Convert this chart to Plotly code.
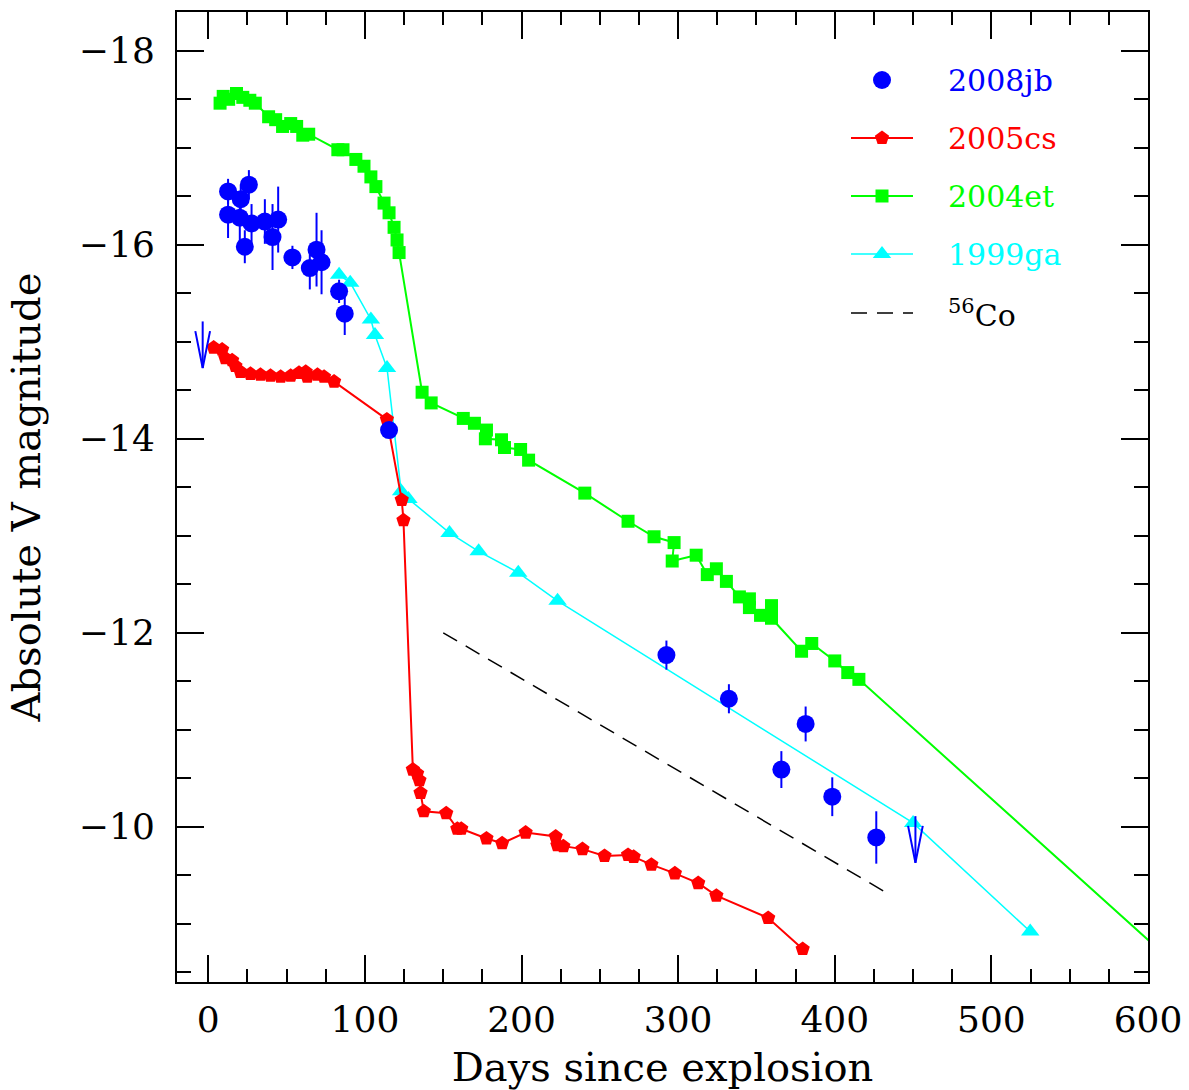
import plotly.graph_objects as go

# ---------------- data ----------------
# SN 2008jb (absolute V, with errors)
jb_x = [12.6, 25.9, 20.7, 12.6, 20.1, 27.6, 36.1, 41.0, 44.6, 23.3, 53.7, 64.8, 69.1, 72.3,
        83.5, 87.1, 115.4, 292.5, 332.4, 365.9, 381.4, 398.4, 426.5]
jb_y = [-16.55, -16.62, -16.47, -16.31, -16.28, -16.22, -16.24, -16.08, -16.26, -15.98, -15.87,
        -15.76, -15.95, -15.82, -15.52, -15.29, -14.09, -11.77, -11.32, -10.59, -11.06, -10.31, -9.89]
jb_err = [0.13, 0.15, 0.15, 0.24, 0.24, 0.20, 0.23, 0.34, 0.34, 0.17, 0.12, 0.22, 0.38, 0.33,
          0.12, 0.22, 0.05, 0.15, 0.15, 0.19, 0.18, 0.20, 0.27]
# 2008jb upper limits
ul_x = [-3.6, 451.5]
ul_y = [-14.97, -9.87]

# SN 2005cs
cs_x = [3.4, 8.8, 10.9, 15.2, 17.3, 20.5, 26.9, 33.3, 39.7, 46.2, 52.6, 57.9, 62.2, 63.2, 69.7,
        73.9, 80.3, 114.0, 123.5, 124.6, 130.6, 133.3, 134.8, 135.5, 137.6, 151.9, 159.0, 161.5,
        177.6, 187.6, 202.6, 221.8, 222.9, 226.7, 238.9, 253.0, 268.0, 271.6, 282.9, 297.9,
        312.8, 324.4, 357.5, 379.5]
cs_y = [-14.94, -14.92, -14.83, -14.81, -14.75, -14.69, -14.67, -14.66, -14.65, -14.64, -14.65,
        -14.68, -14.69, -14.64, -14.66, -14.64, -14.59, -14.20, -13.37, -13.16, -10.59, -10.55,
        -10.48, -10.35, -10.16, -10.14, -9.98, -9.98, -9.88, -9.83, -9.94, -9.90, -9.81, -9.80,
        -9.77, -9.70, -9.71, -9.69, -9.61, -9.52, -9.42, -9.29, -9.06, -8.74]

# SN 2004et
et_x = [7.5, 9.5, 13.0, 18.0, 22.0, 26.5, 30.0, 38.5, 43.0, 47.4, 52.6, 56.4, 60.3, 64.1,
        82.7, 86.0, 94.2, 99.4, 103.8, 107.0, 112.2, 115.4, 118.6, 120.5, 121.8, 136.5, 142.3,
        162.8, 169.9, 177.6, 176.9, 187.2, 189.1, 199.4, 204.5, 240.4, 268.0, 284.6, 297.4,
        296.2, 311.5, 318.6, 324.4, 330.8, 339.1, 345.5, 345.5, 352.6, 359.6, 359.6, 378.8,
        385.3, 400.0, 408.3, 415.4, 612.0]
et_y = [-17.46, -17.53, -17.50, -17.56, -17.52, -17.49, -17.46, -17.32, -17.29, -17.22, -17.25,
        -17.22, -17.13, -17.14, -16.98, -16.98, -16.88, -16.81, -16.70, -16.60, -16.43, -16.33,
        -16.18, -16.05, -15.92, -14.48, -14.37, -14.21, -14.16, -14.09, -14.00, -13.99, -13.91,
        -13.89, -13.78, -13.44, -13.15, -12.99, -12.93, -12.74, -12.80, -12.60, -12.66, -12.53,
        -12.37, -12.35, -12.26, -12.18, -12.28, -12.15, -11.81, -11.89, -11.71, -11.59, -11.52,
        -8.66]

# SN 1999ga
ga_x = [83.5, 90.6, 103.8, 106.4, 114.1, 123.1, 127.8, 154.0, 172.6, 197.9, 223.0, 450.0, 524.8]
ga_y = [-15.69, -15.61, -15.23, -15.07, -14.73, -13.46, -13.38, -13.03, -12.84, -12.62, -12.33,
        -10.04, -8.92]

# 56Co decay slope
co_x = [150.0, 433.0]
co_y = [-12.00, -9.32]

legend_names = ["2008jb", "2005cs", "2004et", "1999ga", "<sup>56</sup>Co"]

# ---------------- styles ----------------
BLUE, RED, GREEN, CYAN = "#0000ff", "#ff0000", "#00ff00", "#00ffff"
FONT = "DejaVu Serif"

fig = go.Figure()

fig.add_trace(go.Scatter(x=co_x, y=co_y, mode="lines",
                         line=dict(color="black", width=1.5, dash="16px,10px"),
                         showlegend=False))
fig.add_trace(go.Scatter(x=ga_x, y=ga_y, mode="lines+markers",
                         line=dict(color=CYAN, width=1.5),
                         marker=dict(symbol="triangle-up", size=16, color=CYAN),
                         showlegend=False))
fig.add_trace(go.Scatter(x=et_x, y=et_y, mode="lines+markers",
                         line=dict(color=GREEN, width=2),
                         marker=dict(symbol="square", size=13, color=GREEN),
                         showlegend=False))
fig.add_trace(go.Scatter(x=cs_x, y=cs_y, mode="lines+markers",
                         line=dict(color=RED, width=2),
                         marker=dict(symbol="pentagon", size=15, color=RED),
                         showlegend=False))
fig.add_trace(go.Scatter(x=jb_x, y=jb_y, mode="markers",
                         marker=dict(symbol="circle", size=18, color=BLUE),
                         error_y=dict(type="data", array=jb_err, visible=True,
                                      color=BLUE, thickness=2, width=0),
                         showlegend=False))

# upper-limit arrows built from the limit arrays
shaft_half = 0.24
head_len = 0.38
head_halfw = 4.7
ax, ay = [], []
for x0, y0 in zip(ul_x, ul_y):
    top, tip = y0 - shaft_half, y0 + shaft_half
    ax += [x0, x0, None, x0 - head_halfw, x0, x0 + head_halfw, None]
    ay += [top, tip, None, tip - head_len, tip, tip - head_len, None]
fig.add_trace(go.Scatter(x=ax, y=ay, mode="lines", line=dict(color=BLUE, width=2),
                         showlegend=False, connectgaps=False))

# ---------------- manual legend (pixel-like overlay axes) ----------------
L, R, T, B = 177, 1148, 12, 982
rows = [80, 138, 196, 254, 313]
mx, lx0, lx1, tx = 882, 851, 913, 946
leg_colors = [BLUE, RED, GREEN, CYAN, "black"]
leg_symbols = ["circle", "pentagon", "square", "triangle-up", None]
leg_sizes = [18, 15, 13, 16, None]
for i, (ry, c, s, sz) in enumerate(zip(rows, leg_colors, leg_symbols, leg_sizes)):
    if i > 0:
        fig.add_trace(go.Scatter(x=[lx0, lx1], y=[ry, ry], mode="lines", xaxis="x2", yaxis="y2",
                                 line=dict(color=c if i < 4 else "black",
                                           width=2 if i < 3 else 1.5,
                                           dash="solid" if i < 4 else "16px,10px"),
                                 showlegend=False, hoverinfo="skip"))
    if s:
        fig.add_trace(go.Scatter(x=[mx], y=[ry], mode="markers", xaxis="x2", yaxis="y2",
                                 marker=dict(symbol=s, size=sz, color=c),
                                 showlegend=False, hoverinfo="skip"))
    fig.add_annotation(x=tx, y=ry, xref="x2", yref="y2", text=legend_names[i],
                       showarrow=False, xanchor="left", yanchor="middle",
                       font=dict(family=FONT, size=30, color=c))

axis_common = dict(showline=True, linewidth=2, linecolor="black", mirror="ticks",
                   ticks="inside", tickwidth=1.5, tickcolor="black", ticklen=27,
                   showgrid=False, zeroline=False, automargin=False,
                   tickfont=dict(family=FONT, size=36, color="black"))

fig.update_layout(
    width=1189, height=1090,
    margin=dict(l=L, r=1189 - R, t=T, b=1090 - B),
    paper_bgcolor="white", plot_bgcolor="white",
    showlegend=False,
    xaxis=dict(range=[-20, 600], dtick=100, tick0=0,
               minor=dict(dtick=25, ticklen=13, ticks="inside", tickwidth=1.5, tickcolor="black"),
               title=dict(text="Days since explosion", font=dict(family=FONT, size=40, color="black"),
                          standoff=16),
               ticklabelstandoff=5,
               **axis_common),
    yaxis=dict(range=[-8.4, -18.4], dtick=2, tick0=0,
               minor=dict(dtick=0.5, ticklen=14, ticks="inside", tickwidth=1.5, tickcolor="black"),
               title=dict(text="Absolute V magnitude", font=dict(family=FONT, size=40, color="black"),
                          standoff=26),
               ticklabelstandoff=13,
               **axis_common),
    xaxis2=dict(overlaying="x", range=[L, R], visible=False, fixedrange=True),
    yaxis2=dict(overlaying="y", range=[B, T], visible=False, fixedrange=True),
)

fig.write_html("out.html")
